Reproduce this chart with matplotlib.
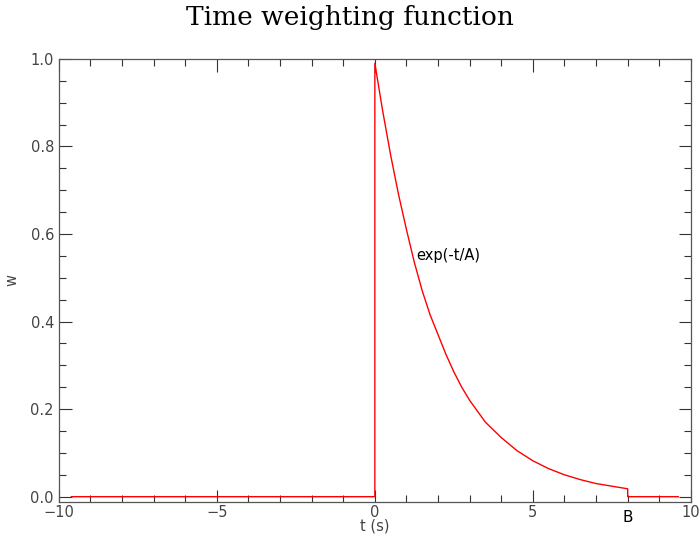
import matplotlib
matplotlib.use("Agg")
import matplotlib.pyplot as plt
from matplotlib.ticker import MultipleLocator, FormatStrFormatter

# weighting curve
t = [-9.6, 0.0, 0.0, 0.25, 0.5, 0.75, 1.0, 1.25, 1.5, 1.75, 2.0, 2.25,
     2.5, 2.75, 3.0, 3.5, 4.0, 4.5, 5.0, 5.5, 6.0, 6.5, 7.0, 7.5, 8.0,
     8.0, 9.6]
w = [0.0, 0.0, 0.99, 0.88, 0.78, 0.69, 0.61, 0.535, 0.47, 0.415, 0.37,
     0.325, 0.285, 0.25, 0.22, 0.17, 0.135, 0.105, 0.082, 0.064, 0.05,
     0.039, 0.030, 0.024, 0.018, 0.0, 0.0]

label_curve = "exp(-t/A)"
label_b = "B"
b_pos = 8.0

fig = plt.figure(figsize=(7, 5.45), dpi=100)
ax = fig.add_axes([0.084, 0.079, 0.903, 0.813])

ax.plot(t, w, color="red", lw=1.0)

ax.set_xlim(-10, 10)
ax.set_ylim(-0.012, 1.0)
ax.xaxis.set_major_locator(MultipleLocator(5))
ax.xaxis.set_minor_locator(MultipleLocator(1))
ax.yaxis.set_major_locator(MultipleLocator(0.2))
ax.yaxis.set_minor_locator(MultipleLocator(0.05))
ax.yaxis.set_major_formatter(FormatStrFormatter("%.1f"))
ax.tick_params(which="both", direction="in", top=True, right=True,
               color="#333333", labelcolor="#444444", labelsize=10.5)
ax.tick_params(which="major", length=9, width=0.8)
ax.tick_params(which="minor", length=5, width=0.8)
ax.tick_params(axis="x", pad=2)
for s in ax.spines.values():
    s.set_color("#555555")
    s.set_linewidth(0.9)

ax.set_xlabel("t (s)", fontsize=10.5, color="#444444", labelpad=-1)
ax.set_ylabel("w", fontsize=10.5, color="#444444")
ax.yaxis.set_label_coords(-0.062, 0.5)

ax.text(1.3, 0.55, label_curve, fontsize=10.5, ha="left", va="center")
ax.text(b_pos, -0.03, label_b, fontsize=11, ha="center", va="top")

fig.suptitle("Time weighting function", family="DejaVu Serif", fontsize=19,
             y=0.99, va="top")

fig.savefig("out.png", dpi=100)
